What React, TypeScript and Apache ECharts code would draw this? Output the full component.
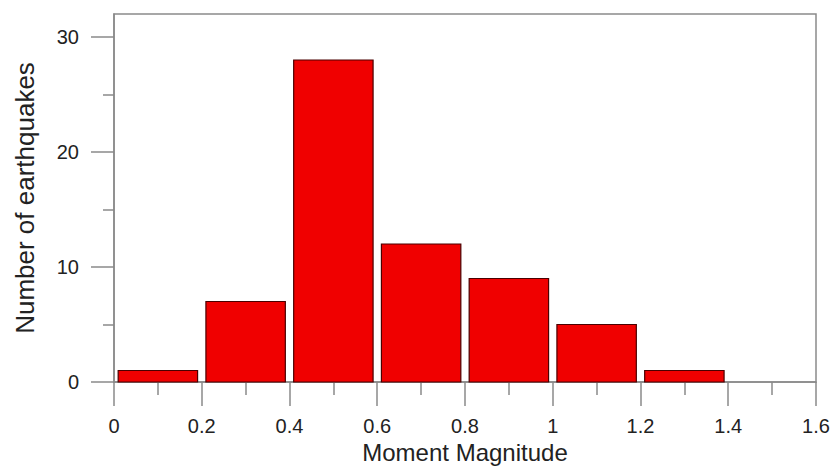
import React, { useEffect, useRef } from "react";
import * as echarts from "echarts";

const binStarts = [0, 0.2, 0.4, 0.6, 0.8, 1.0, 1.2];
const binWidth = 0.2;
const counts = [1, 7, 28, 12, 9, 5, 1];
const yMajorTicks = [0, 10, 20, 30];
const yMinorTicks = [5, 15, 25];
const xTitle = "Moment Magnitude";
const yTitle = "Number of earthquakes";

export default function App() {
  const ref = useRef<HTMLDivElement>(null);
  useEffect(() => {
    if (!ref.current) return;
    const chart = echarts.init(ref.current, null, { renderer: "svg" });
    const axisGray = "#8a8a8a";
    const textColor = "#222";
    const font = "Liberation Sans, Arial, sans-serif";
    const gap = 0.0095;
    chart.setOption({
      animation: false,
      backgroundColor: "#fff",
      grid: {
        left: 114,
        top: 14,
        right: 16,
        bottom: 86,
        outerBoundsMode: "none",
        containLabel: false,
        show: true,
        borderColor: axisGray,
        borderWidth: 1.5,
        backgroundColor: "#fff",
      },
      xAxis: {
        type: "value",
        min: 0,
        max: 1.6,
        interval: 0.2,
        name: xTitle,
        nameLocation: "middle",
        nameGap: 52,
        nameTextStyle: { fontSize: 24, lineHeight: 24, color: textColor, fontFamily: font },
        splitLine: { show: false },
        axisLine: { show: true, lineStyle: { color: axisGray, width: 1.5 } },
        axisTick: { show: true, length: 24, lineStyle: { color: axisGray, width: 1.5 } },
        minorTick: { show: true, splitNumber: 2, length: 13, lineStyle: { color: axisGray, width: 1.5 } },
        axisLabel: {
          margin: 34,
          fontSize: 20,
          color: textColor,
          fontFamily: font,
          formatter: (v: number) => String(Math.round(v * 10) / 10),
        },
      },
      yAxis: [
        {
          type: "value",
          min: 0,
          max: 32,
          name: yTitle,
          nameLocation: "middle",
          nameGap: 76,
          nameTextStyle: { fontSize: 26, color: textColor, fontFamily: font },
          splitLine: { show: false },
          axisLine: { show: true, lineStyle: { color: axisGray, width: 1.5 } },
          axisTick: { show: true, length: 23, customValues: yMajorTicks, lineStyle: { color: axisGray, width: 1.5 } },
          axisLabel: {
            customValues: yMajorTicks,
            margin: 35,
            fontSize: 20,
            color: textColor,
            fontFamily: font,
          },
        },
        {
          type: "value",
          min: 0,
          max: 32,
          position: "left",
          splitLine: { show: false },
          axisLine: { show: false },
          axisTick: { show: true, length: 11, customValues: yMinorTicks, lineStyle: { color: axisGray, width: 1.5 } },
          axisLabel: { show: false },
        },
      ],
      series: [
        {
          type: "custom",
          xAxisIndex: 0,
          yAxisIndex: 0,
          data: binStarts.map((s, i) => [s, s + binWidth, counts[i]]),
          encode: { x: [0, 1], y: 2 },
          renderItem: (params: any, api: any) => {
            const x0 = api.value(0) + gap;
            const x1 = api.value(1) - gap;
            const v = api.value(2);
            const p0 = api.coord([x0, v]);
            const p1 = api.coord([x1, 0]);
            return {
              type: "rect",
              shape: { x: p0[0], y: p0[1], width: p1[0] - p0[0], height: p1[1] - p0[1] },
              style: { fill: "#f00000", stroke: "#4a0000", lineWidth: 1.2 },
            };
          },
        },
      ],
    });
    return () => chart.dispose();
  }, []);
  return (
    <div
      ref={ref}
      style={{ position: "fixed", left: 0, top: 0, width: 832, height: 468, background: "#fff" }}
    />
  );
}
